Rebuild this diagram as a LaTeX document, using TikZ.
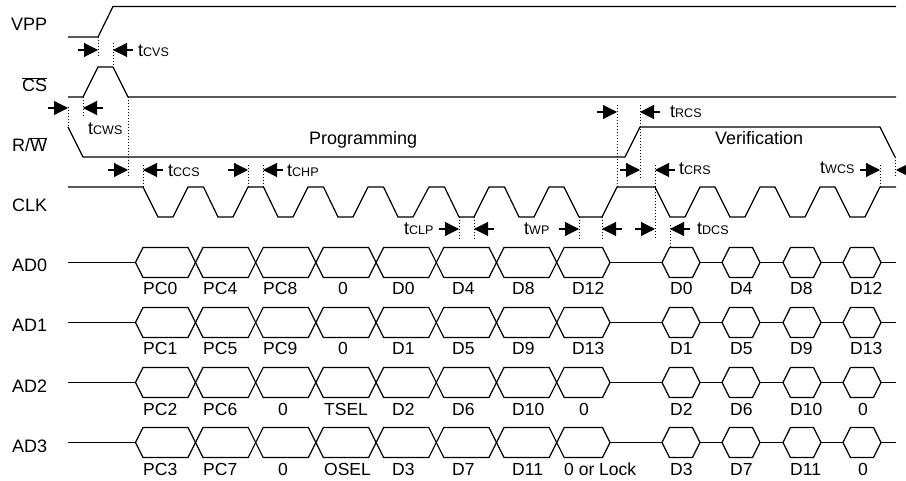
\documentclass[tikz,border=0pt]{standalone}
\usepackage{fontspec}
\setmainfont{Liberation Sans}
\usetikzlibrary{arrows.meta}
\newcommand{\tlab}[1]{t{\fontsize{12.5}{12.5}\selectfont #1}}
\tikzset{
    wave/.style={line width=1.2pt, line join=round},
    dim/.style={line width=1.1pt, -{Triangle[length=14pt,width=14pt]}},
    tick/.style={line width=1pt, dash pattern=on 1.5pt off 1.5pt},
    lab/.style={anchor=base west, inner sep=0pt, font=\fontsize{18}{20}\selectfont},
    small/.style={lab, font=\fontsize{17.5}{20}\selectfont}
}
\begin{document}
\begin{tikzpicture}[x=1pt, y=-1pt]
    \useasboundingbox (0,0) rectangle (906,481);
    \def\h{15}
    \def\e{7.5}

    % Signal names
    \node[lab] (vpp) at (11,31) {VPP};
    \node[lab] (cs) at (22,92) {$\overline{\mbox{CS}}$};
    \node[lab] (rw) at (12,152) {R/$\overline{\mbox{W}}$};
    \node[lab] (clk) at (12,212) {CLK};
    \node[lab] (ad0) at (12,272) {AD0};
    \node[lab] (ad1) at (12,332) {AD1};
    \node[lab] (ad2) at (12,392) {AD2};
    \node[lab] (ad3) at (12,452) {AD3};

    % Control waveforms
    \draw[wave] (68,37) -- (98,37) -- (113,6.5) -- (896,6.5);
    \draw[wave] (68,97) -- (83,97) -- (98,67) -- (113,67) -- (128,97) -- (896,97);
    \draw[wave] (68,127) -- (83,157) -- (625,157) -- (640,127) -- (880,127) -- (895,157);

    % Clock
    \draw[wave] (68,187) -- (143,187) -- (158,217) -- (173,217)
        \foreach \x in {188,248,308,368,429,489} {
            -- (\x,187) -- (\x+15.5,187) -- (\x+30,217) -- (\x+45,217)
        }
        -- (549,187) -- (564,187) -- (579,217) -- (602,217) -- (617,187) -- (655,187) -- (670,217) -- (685,217)
        \foreach \x in {700,760,820} {
            -- (\x,187) -- (\x+15,187) -- (\x+30,217) -- (\x+45,217)
        }
        -- (880,187) -- (896,187);

    % Address and data buses
    \foreach \y in {262.5,322.5,382.5,442.5} {
        \foreach \a/\b in {68/135.5,610/662,700/722,760/783,821/843,881/896} {
            \draw[wave] (\a,\y) -- (\b,\y);
        }
        \foreach \a/\b in {135.5/195.5,195.5/255.7,255.7/315.9,315.9/376.1,376.1/436.3,436.3/496.5,496.5/556.7,556.7/610,662/700,722/760,783/821,843/881} {
            \draw[wave] (\a,\y) -- (\a+\e,\y-\h) -- (\b-\e,\y-\h) -- (\b,\y) -- (\b-\e,\y+\h) -- (\a+\e,\y+\h) -- cycle;
        }
    }

    % Bus values
    \foreach \x/\t in {143/PC0,203/PC4,263/PC8,338/0,392/D0,452/D4,512/D8,572/D12,670/D0,730/D4,790/D8,850/D12} {
        \node[small] (a\x) at (\x,295) {\t};
    }
    \foreach \x/\t in {143/PC1,203/PC5,263/PC9,338/0,392/D1,452/D5,512/D9,572/D13,670/D1,730/D5,790/D9,850/D13} {
        \node[small] (b\x) at (\x,354.5) {\t};
    }
    \foreach \x/\t in {143/PC2,203/PC6,278/0,324/TSEL,392/D2,452/D6,512/D10,579/0,670/D2,730/D6,790/D10,858/0} {
        \node[small] (c\x) at (\x,415) {\t};
    }
    \foreach \x/\t in {143/PC3,203/PC7,278/0,324/OSEL,392/D3,452/D7,512/D11,564/0 or Lock,670/D3,730/D7,790/D11,858/0} {
        \node[small] (d\x) at (\x,475) {\t};
    }

    % Phases
    \node[lab] (prog) at (309,145) {Programming};
    \node[lab] (verif) at (715,145) {Verification};

    % Dotted guides
    \draw[tick] (98,37) -- (98,57);
    \draw[tick] (113,43) -- (113,67);
    \draw[tick] (68,107) -- (68,127);
    \draw[tick] (83,97) -- (83,117);
    \draw[tick] (128,97) -- (128,178);
    \draw[tick] (143,165) -- (143,187);
    \draw[tick] (248,165) -- (248,187);
    \draw[tick] (263,165) -- (263,187);
    \draw[tick] (459,217) -- (459,240);
    \draw[tick] (474,217) -- (474,240);
    \draw[tick] (579,217) -- (579,240);
    \draw[tick] (602,217) -- (602,240);
    \draw[tick] (617,105) -- (617,187);
    \draw[tick] (640,105) -- (640,180);
    \draw[tick] (655,165) -- (655,240);
    \draw[tick] (670,225) -- (670,247);
    \draw[tick] (880,165) -- (880,187);
    \draw[tick] (895,157) -- (895,178);

    % Timing arrows
    \draw[dim] (78,50) -- (98,50);
    \draw[dim] (133,50) -- (113,50);
    \draw[dim] (48,108) -- (68,108);
    \draw[dim] (103,108) -- (83,108);
    \draw[dim] (108,170) -- (128,170);
    \draw[dim] (163,170) -- (143,170);
    \draw[dim] (228,170) -- (248,170);
    \draw[dim] (283,170) -- (263,170);
    \draw[dim] (597,112) -- (617,112);
    \draw[dim] (660,112) -- (640,112);
    \draw[dim] (620,170) -- (640,170);
    \draw[dim] (675,170) -- (655,170);
    \draw[dim] (860,170) -- (880,170);
    \draw[dim] (916,170) -- (896,170);
    \draw[dim] (439,229) -- (459,229);
    \draw[dim] (494,229) -- (474,229);
    \draw[dim] (559,229) -- (579,229);
    \draw[dim] (622,229) -- (602,229);
    \draw[dim] (635,229) -- (655,229);
    \draw[dim] (690,229) -- (670,229);

    % Timing names
    \node[lab] (tcvs) at (138,57) {\tlab{CVS}};
    \node[lab] (tcws) at (88,135) {\tlab{CWS}};
    \node[lab] (tccs) at (168,177) {\tlab{CCS}};
    \node[lab] (tchp) at (287,177) {\tlab{CHP}};
    \node[lab] (trcs) at (670,118) {\tlab{RCS}};
    \node[lab] (tcrs) at (679,175) {\tlab{CRS}};
    \node[lab] (twcs) at (820,174) {\tlab{WCS}};
    \node[lab] (tclp) at (404,235) {\tlab{CLP}};
    \node[lab] (twp) at (524,235) {\tlab{WP}};
    \node[lab] (tdcs) at (697,235) {\tlab{DCS}};
\end{tikzpicture}
\end{document}
